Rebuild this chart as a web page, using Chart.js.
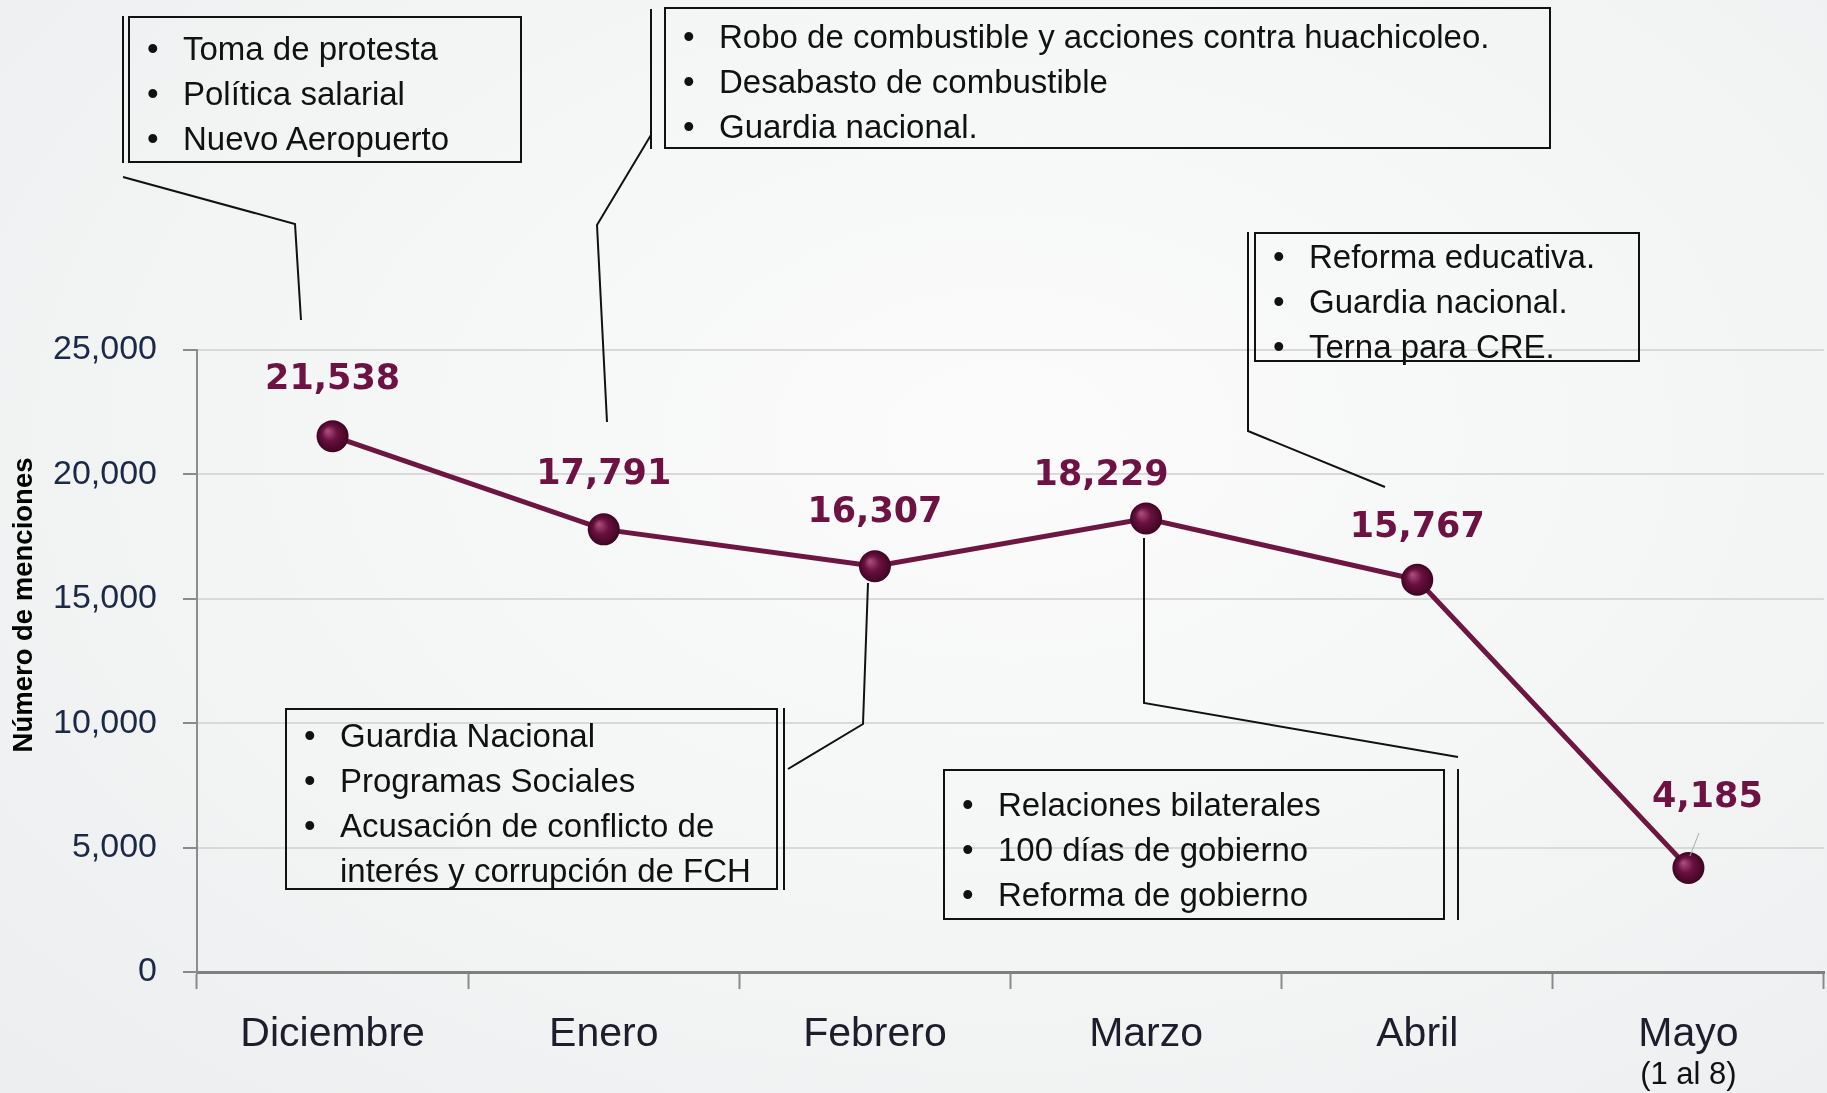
<!DOCTYPE html>
<html lang="es">
<head>
<meta charset="utf-8">
<title>Número de menciones</title>
<script src="https://cdn.jsdelivr.net/npm/chart.js@4.4.1/dist/chart.umd.min.js"></script>
<style>
html, body { margin: 0; padding: 0; }
body {
  width: 1827px; height: 1093px; overflow: hidden;
  background: radial-gradient(ellipse at 55% 40%, #fbfbfb 0%, #f5f6f6 45%, #eceeef 100%);
  font-family: "Liberation Sans", Arial, sans-serif;
}
#lienzo { position: relative; width: 1827px; height: 1093px; }
#grafica { position: absolute; left: 0; top: 0; }
#lineas { position: absolute; left: 0; top: 0; pointer-events: none; }
.nota {
  position: absolute; box-sizing: border-box;
  border: 2px solid #111; color: #111;
  font-size: 33px; white-space: nowrap;
}
.nota ul { margin: 0; padding: 0; list-style: none; }
.nota li { position: relative; padding-left: 53px; line-height: 45px; }
.nota li::before { content: "\2022"; position: absolute; left: 17px; }
#tituloY {
  position: absolute; left: 23px; top: 605px;
  transform: translate(-50%, -50%) rotate(-90deg);
  font-weight: bold; font-size: 27.5px; color: #000; white-space: nowrap;
}
</style>
</head>
<body>
<div id="lienzo">
  <canvas id="grafica" width="1827" height="1093"></canvas>

  <!-- lineas de las llamadas -->
  <svg id="lineas" width="1827" height="1093">
    <g stroke="#111" stroke-width="2" fill="none">
      <line x1="123" y1="16" x2="123" y2="163"/>
      <polyline points="123,177 295,224 301,320"/>
      <line x1="651" y1="9" x2="651" y2="149"/>
      <polyline points="651,135 597,225 607,422"/>
      <polyline points="1248,232 1248,431 1385,487"/>
      <line x1="784" y1="708" x2="784" y2="890"/>
      <polyline points="788,769 863,724 868,583"/>
      <line x1="1458" y1="769" x2="1458" y2="920"/>
      <polyline points="1144,538 1144,703 1458,757"/>
    </g>
    <line x1="1699" y1="833" x2="1690" y2="856" stroke="#aaa" stroke-width="1"/>
  </svg>

  <div class="nota" style="left:128px;top:16px;width:394px;height:147px;padding-top:8px;">
    <ul><li>Toma de protesta</li><li>Política salarial</li><li>Nuevo Aeropuerto</li></ul>
  </div>
  <div class="nota" style="left:664px;top:7px;width:887px;height:142px;padding-top:5px;">
    <ul><li>Robo de combustible y acciones contra huachicoleo.</li><li>Desabasto de combustible</li><li>Guardia nacional.</li></ul>
  </div>
  <div class="nota" style="left:1254px;top:232px;width:386px;height:130px;padding-top:0;">
    <ul><li>Reforma educativa.</li><li>Guardia nacional.</li><li>Terna para CRE.</li></ul>
  </div>
  <div class="nota" style="left:285px;top:708px;width:493px;height:182px;padding-top:3px;">
    <ul><li>Guardia Nacional</li><li>Programas Sociales</li><li>Acusación de conflicto de<br>interés y corrupción de FCH</li></ul>
  </div>
  <div class="nota" style="left:943px;top:769px;width:502px;height:151px;padding-top:11px;">
    <ul><li>Relaciones bilaterales</li><li>100 días de gobierno</li><li>Reforma de gobierno</li></ul>
  </div>

  <div id="tituloY">Número de menciones</div>
</div>

<script>
// Datos de la gráfica
const meses = ['Diciembre', 'Enero', 'Febrero', 'Marzo', 'Abril', 'Mayo'];
const notaMes = ['', '', '', '', '', '(1 al 8)'];
const menciones = [21538, 17791, 16307, 18229, 15767, 4185];
const ticksY = [0, 5000, 10000, 15000, 20000, 25000];

const colorLinea = '#6e1642';
const colorEtiqueta = '#6d1242';

// desplazamiento de cada etiqueta respecto a su punto
const despEtiqueta = [[0, -56], [0, -54], [0, -53], [-45, -43], [0, -52], [19, -70]];

const formato = v => v.toLocaleString('en-US');

// bolita con brillo
function colorPunto(ctx) {
  if (ctx.type !== 'data') return colorLinea;
  const chart = ctx.chart;
  const x = chart.scales.x.getPixelForValue(ctx.dataIndex);
  const y = chart.scales.y.getPixelForValue(ctx.raw);
  if (!isFinite(x) || !isFinite(y)) return colorLinea;
  const g = chart.ctx.createRadialGradient(x - 5, y - 5, 1, x, y, 16);
  g.addColorStop(0, '#a64a78');
  g.addColorStop(0.45, '#6a1040');
  g.addColorStop(1, '#3e0522');
  return g;
}

const etiquetas = {
  id: 'etiquetas',
  afterDatasetsDraw(chart) {
    const c = chart.ctx;
    const puntos = chart.getDatasetMeta(0).data;
    c.save();
    c.font = 'bold 35px "DejaVu Sans", sans-serif';
    c.fillStyle = colorEtiqueta;
    c.textAlign = 'center';
    c.textBaseline = 'middle';
    puntos.forEach((p, i) => {
      const d = despEtiqueta[i];
      c.fillText(formato(menciones[i]), p.x + d[0], p.y + d[1]);
    });
    // segunda linea de la categoria
    c.font = '31px "Liberation Sans", sans-serif';
    c.fillStyle = '#111';
    notaMes.forEach((t, i) => {
      if (!t) return;
      c.fillText(t, chart.scales.x.getPixelForValue(i), 1075);
    });
    c.restore();
  }
};

new Chart(document.getElementById('grafica'), {
  type: 'line',
  data: {
    labels: meses,
    datasets: [{
      data: menciones,
      borderColor: colorLinea,
      borderWidth: 5,
      tension: 0,
      pointRadius: 16,
      pointHoverRadius: 16,
      pointBorderWidth: 0,
      pointBackgroundColor: colorPunto,
      clip: false
    }]
  },
  options: {
    responsive: false,
    animation: false,
    layout: { autoPadding: false, padding: { top: 350, right: 3, left: 0, bottom: 0 } },
    plugins: {
      legend: { display: false },
      tooltip: { enabled: false }
    },
    scales: {
      x: {
        offset: true,
        grid: { offset: true, drawOnChartArea: false, tickLength: 17, tickColor: '#8a8a8a', tickWidth: 2 },
        border: { color: '#7f7f7f', width: 3 },
        ticks: {
          font: { family: 'Liberation Sans', size: 41 },
          color: '#1d1d2b',
          padding: 21,
          maxRotation: 0
        },
        afterFit: s => { s.height = 121; s.paddingLeft = 0; s.paddingRight = 0; }
      },
      y: {
        min: 0,
        max: 25000,
        afterBuildTicks: s => { s.ticks = ticksY.map(v => ({ value: v })); },
        grid: { color: '#d9d9d9', lineWidth: 2, tickLength: 14, tickColor: '#8a8a8a', tickWidth: 2 },
        border: { color: '#8c8c8c', width: 2 },
        ticks: {
          font: { family: 'Liberation Sans', size: 34 },
          color: '#1c2946',
          padding: 26,
          callback: v => formato(v)
        },
        afterFit: s => { s.width = 197; }
      }
    }
  },
  plugins: [etiquetas]
});
</script>
</body>
</html>
